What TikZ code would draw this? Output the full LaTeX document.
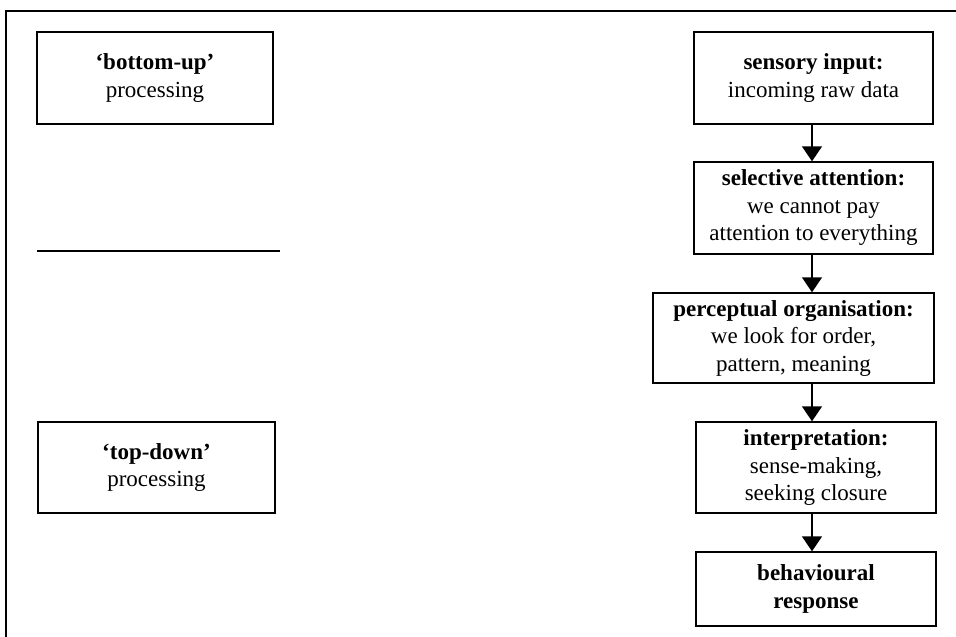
\documentclass[tikz,border=0pt]{standalone}
\usepackage{fontspec}
\setmainfont{Liberation Serif}
\usetikzlibrary{arrows.meta}
\begin{document}
\begin{tikzpicture}[x=1pt,y=-1pt,
  box/.style={draw, line width=1.4pt, inner sep=0pt, align=center,
    font=\fontsize{23}{27.5}\selectfont},
  flow/.style={line width=1.4pt, -{Triangle[width=20pt,length=15pt]}}]
\useasboundingbox (0,0) rectangle (956,637);
\coordinate (fb) at (6,637);
\coordinate (fc) at (6,11);
\coordinate (fr) at (956,11);
\draw[line width=1.8pt] (fb) -- (fc) -- (fr);

\node[box, minimum width=236pt, minimum height=92pt] (bu) at (155,78)
  {\textbf{‘bottom-up’}\\processing};
\coordinate (l1) at (37,251);
\coordinate (l2) at (280,251);
\draw[line width=2pt] (l1) -- (l2);
\node[box, minimum width=237pt, minimum height=91pt] (td) at (156.5,467.5)
  {\textbf{‘top-down’}\\processing};

\node[box, minimum width=239pt, minimum height=92pt] (si) at (813.5,78)
  {\textbf{sensory input:}\\incoming raw data};
\node[box, minimum width=239pt, minimum height=92pt] (sa) at (813.5,208)
  {\textbf{selective attention:}\\we cannot pay\\attention to everything};
\node[box, minimum width=281pt, minimum height=90pt] (po) at (793.5,338)
  {\textbf{perceptual organisation:}\\we look for order,\\pattern, meaning};
\node[box, minimum width=240pt, minimum height=91pt] (ip) at (816,467.5)
  {\textbf{interpretation:}\\sense-making,\\seeking closure};
\node[box, minimum width=240pt, minimum height=74pt] (br) at (816,589)
  {\textbf{behavioural}\\\textbf{response}};

\coordinate (ax) at (812,0);
\draw[flow] (si.south -| ax) -- (sa.north -| ax);
\draw[flow] (sa.south -| ax) -- (po.north -| ax);
\draw[flow] (po.south -| ax) -- (ip.north -| ax);
\draw[flow] (ip.south -| ax) -- (br.north -| ax);
\end{tikzpicture}
\end{document}
